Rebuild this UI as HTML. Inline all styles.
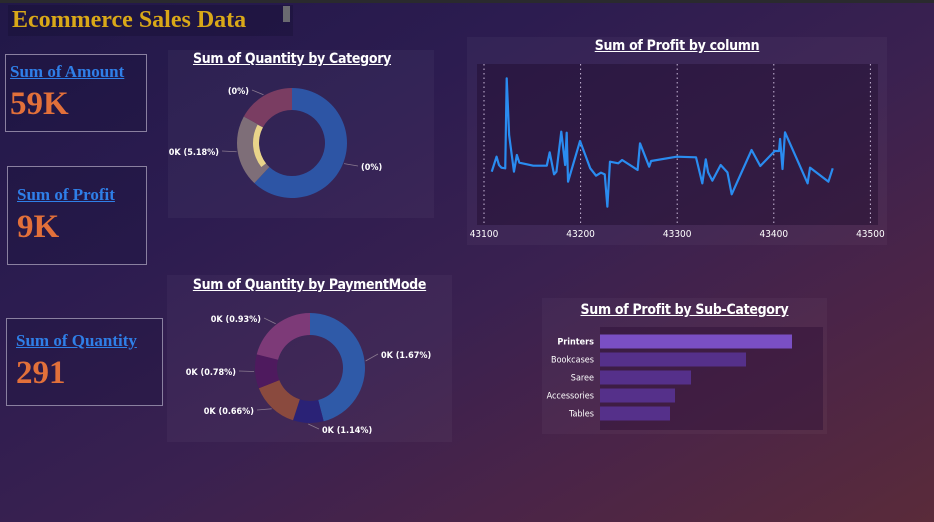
<!DOCTYPE html>
<html><head><meta charset="utf-8">
<style>
*{margin:0;padding:0;box-sizing:border-box}
body{width:934px;height:522px;overflow:hidden;position:relative;
background:linear-gradient(150deg,#211848 0%,#2c1c50 30%,#3a2150 55%,#4a2448 75%,#5a2b3a 100%);
font-family:"Liberation Sans",sans-serif;}
.abs{position:absolute}
.panel{position:absolute;background:rgba(255,255,255,0.035)}
.card{position:absolute;border:1px solid #8a80a0;background:rgba(20,15,50,0.25)}
.ktitle{position:absolute;font-family:"Liberation Serif",serif;font-weight:900;color:#2f7fe8;text-decoration:underline;font-size:17px}
.kval{position:absolute;font-family:"Liberation Serif",serif;font-weight:900;color:#e2703a;font-size:33px}
.ptitle{position:absolute;color:#fff;font-weight:bold;font-size:14px;text-decoration:underline;text-align:center;font-family:"DejaVu Sans Condensed","Liberation Sans",sans-serif;letter-spacing:-0.3px}
svg text{font-family:"DejaVu Sans Condensed","Liberation Sans",sans-serif}
</style></head><body>
<div class="abs" style="left:0;top:0;width:934px;height:3px;background:#2a2a2e"></div>
<div class="abs" style="left:8px;top:5px;width:285px;height:31px;background:rgba(20,15,50,0.35)"></div>
<div class="abs" style="left:12px;top:7px;font-family:'Liberation Serif',serif;font-weight:900;font-size:24px;color:#d9a818">Ecommerce Sales Data</div>
<div class="abs" style="left:283px;top:6px;width:7px;height:16px;background:#6a6a70"></div>

<div class="card" style="left:5px;top:54px;width:142px;height:78px"></div>
<div class="ktitle" style="left:10px;top:62px">Sum of Amount</div>
<div class="kval" style="left:10px;top:86px">59K</div>

<div class="card" style="left:7px;top:166px;width:140px;height:99px"></div>
<div class="ktitle" style="left:17px;top:185px">Sum of Profit</div>
<div class="kval" style="left:17px;top:209px">9K</div>

<div class="card" style="left:6px;top:318px;width:157px;height:88px"></div>
<div class="ktitle" style="left:16px;top:331px">Sum of Quantity</div>
<div class="kval" style="left:16px;top:355px">291</div>

<div class="panel" style="left:168px;top:50px;width:266px;height:168px"></div>
<div class="ptitle" style="left:168px;top:51px;width:248px">Sum of Quantity by Category</div>
<div class="panel" style="left:467px;top:37px;width:420px;height:208px"></div>
<div class="ptitle" style="left:467px;top:38px;width:420px">Sum of Profit by column</div>
<div class="panel" style="left:167px;top:275px;width:285px;height:167px"></div>
<div class="ptitle" style="left:167px;top:277px;width:285px">Sum of Quantity by PaymentMode</div>
<div class="panel" style="left:542px;top:298px;width:285px;height:136px"></div>
<div class="ptitle" style="left:542px;top:302px;width:285px">Sum of Profit by Sub-Category</div>

<svg id="s" class="abs" style="left:0;top:0" width="934" height="522"></svg>

<script>
// Category donut
const catShares=[62,21,17];
const catColors=['#2d55a5','#7e6e78','#7a3d62'];
const catLabels=['(0%)','0K (5.18%)','(0%)'];
// Payment donut
const payShares=[46,9,14,10,21];
const payColors=['#2f5aa8','#2a2276','#8a4a3e','#4e1a5e','#7d3a78'];
const payLabels=['0K (1.67%)','0K (1.14%)','0K (0.66%)','0K (0.78%)','0K (0.93%)'];
// Line chart
const lineX=[43108,43113,43115.5,43118,43122,43123.5,43126,43131,43134,43136.6,43151,43165,43168,43172.5,43175,43180,43184,43185.6,43187,43199.4,43210,43216,43221,43225,43227.7,43230.4,43239,43243,43259,43261.5,43271,43273,43299.5,43319.5,43326,43329.6,43332,43336.4,43345,43352,43356.4,43377,43386,43401,43405.4,43406.5,43409,43411.6,43435,43437.5,43456.5,43461];
const lineY=[160,205,180,172,170,440,270,160,210,187,178,178,218,152,160,280,180,277,130,252,170,148,157,152,55,190,185,195,165,245,175,192,205,203,125,197,158,133,180,158,92,225,177,222,222,258,168,278,125,172,130,170];
const xTicks=[43100,43200,43300,43400,43500];
// Bar chart
const subCats=['Printers','Bookcases','Saree','Accessories','Tables'];
const subVals=[192,146,91,75,70];

const s=document.getElementById('s');
const NS='http://www.w3.org/2000/svg';
function el(t,a,p){const e=document.createElementNS(NS,t);for(const k in a)e.setAttribute(k,a[k]);(p||s).appendChild(e);return e;}
function pt(cx,cy,r,a){const rad=(a-90)*Math.PI/180;return [cx+r*Math.cos(rad),cy+r*Math.sin(rad)];}
function arc(cx,cy,r0,r1,a0,a1){const l=(a1-a0)>180?1:0;const p1=pt(cx,cy,r1,a0),p2=pt(cx,cy,r1,a1),p3=pt(cx,cy,r0,a1),p4=pt(cx,cy,r0,a0);
return `M${p1}A${r1},${r1} 0 ${l} 1 ${p2}L${p3}A${r0},${r0} 0 ${l} 0 ${p4}Z`;}
function donut(cx,cy,shares,colors,labels,name,labPos){
  const tot=shares.reduce((a,b)=>a+b,0);let a=0;
  shares.forEach((v,i)=>{const a1=a+v/tot*360;
    const p=el('path',{d:arc(cx,cy,33,55,a,a1),fill:colors[i]});
    
    
    const mid=(a+a1)/2;const lp=labPos[i];
    const e=pt(cx,cy,56,mid);
    el('polyline',{points:`${e} ${lp[0]+(lp[2]=='end'?3:-3)},${lp[1]-4}`,fill:'none',stroke:'#8a7a90','stroke-width':0.8});
    const t=el('text',{x:lp[0],y:lp[1],fill:'#fff','font-size':9,'font-weight':'bold','text-anchor':lp[2]});t.textContent=labels[i];
    
    
    a=a1;});
}
donut(292,143,catShares,catColors,catLabels,'category',[[361,170,'start'],[219,155,'end'],[249,94,'end']]);
const ya=el('path',{d:arc(292,143,33,39,232,298),fill:'#e9d48a'});


donut(310,368,payShares,payColors,payLabels,'payment',[[381,358,'start'],[322,433,'start'],[254,414,'end'],[236,375,'end'],[261,322,'end']]);

// line chart
const X0=484,PX=0.966;const fx=x=>X0+(x-43100)*PX;const fy=v=>225-v/3;
const bg=el('rect',{x:477,y:64,width:401,height:161,fill:'rgba(30,10,45,0.45)'});


xTicks.forEach(t=>{
  el('line',{x1:fx(t),x2:fx(t),y1:64,y2:225,stroke:'#c8b8d8','stroke-width':1,'stroke-dasharray':'1.5,3'});
  const tx=el('text',{x:fx(t),y:237,fill:'#fff','font-size':10,'text-anchor':'middle'});tx.textContent=t;
  
  
});
const ln=el('polyline',{points:lineX.map((x,i)=>fx(x)+','+fy(lineY[i])).join(' '),fill:'none',stroke:'#2a8cf0','stroke-width':2.2,'stroke-linejoin':'round'});



// bar chart
const bb=el('rect',{x:600,y:327,width:223,height:103,fill:'rgba(40,10,50,0.4)'});


const bx=v=>600+v*1.0;
subCats.forEach((c,i)=>{const y=334.5+i*18;
  const r=el('rect',{x:600,y:y,width:bx(subVals[i])-600,height:14,fill:i==0?'#7a4fc4':'#55308a'});
  
  
  const t=el('text',{x:594,y:y+10,fill:'#fff','font-size':9,'font-weight':i==0?'bold':'normal','text-anchor':'end'});t.textContent=c;
  
  
});
</script>
</body></html>
